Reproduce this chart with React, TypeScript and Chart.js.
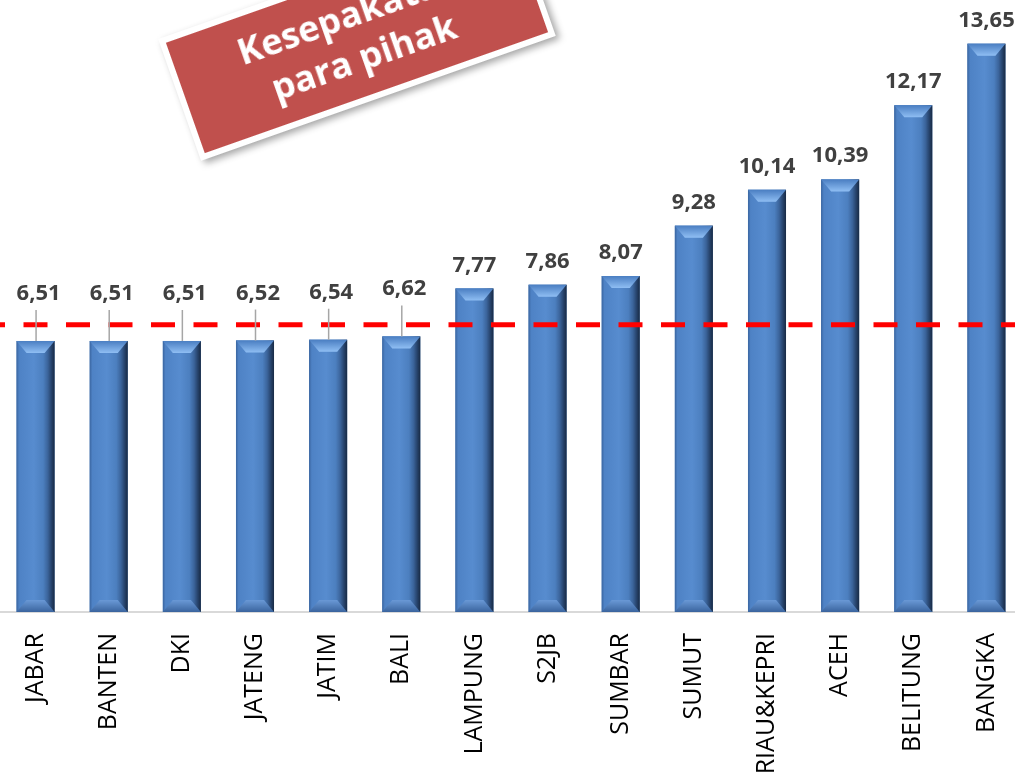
import React, { useEffect, useRef } from "react";
import { Chart, registerables } from "chart.js";

Chart.register(...registerables);

const categories = [
  "JABAR", "BANTEN", "DKI", "JATENG", "JATIM", "BALI", "LAMPUNG",
  "S2JB", "SUMBAR", "SUMUT", "RIAU&KEPRI", "ACEH", "BELITUNG", "BANGKA",
];
const values = [6.51, 6.51, 6.51, 6.52, 6.54, 6.62, 7.77, 7.86, 8.07, 9.28, 10.14, 10.39, 12.17, 13.65];
const thresholdValue = 6.9;
const calloutLines = ["Kesepakatan", "para pihak"];

const fmt = (v: number) => v.toFixed(2).replace(".", ",");

const decorPlugin = {
  id: "decor",
  afterDatasetsDraw(chart: any) {
    const ctx: CanvasRenderingContext2D = chart.ctx;
    const meta = chart.getDatasetMeta(0);
    const yScale = chart.scales.y;
    const area = chart.chartArea;

    // bevelled bars
    meta.data.forEach((bar: any) => {
      const { x, y, base, width } = bar.getProps(["x", "y", "base", "width"], true);
      const x0 = x - width / 2;
      const x1 = x + width / 2;
      const top = y;
      const bot = base;
      ctx.save();
      const g = ctx.createLinearGradient(x0, 0, x1, 0);
      g.addColorStop(0, "#3a65a0");
      g.addColorStop(0.07, "#4e82c5");
      g.addColorStop(0.45, "#578ccf");
      g.addColorStop(0.7, "#4c7fbf");
      g.addColorStop(0.82, "#3b649b");
      g.addColorStop(0.92, "#26426a");
      g.addColorStop(1, "#182a44");
      ctx.fillStyle = g;
      ctx.fillRect(x0, top, x1 - x0, bot - top);

      const d = 12;
      const ins = 10;
      // top bevel
      const gt = ctx.createLinearGradient(0, top, 0, top + d);
      gt.addColorStop(0, "#4a7ec2");
      gt.addColorStop(1, "#8fbef3");
      ctx.fillStyle = gt;
      ctx.beginPath();
      ctx.moveTo(x0, top);
      ctx.lineTo(x1, top);
      ctx.lineTo(x1 - ins, top + d);
      ctx.lineTo(x0 + ins, top + d);
      ctx.closePath();
      ctx.fill();
      // bottom bevel
      const gb = ctx.createLinearGradient(0, bot - d, 0, bot);
      gb.addColorStop(0, "#6a99d6");
      gb.addColorStop(1, "#3a649e");
      ctx.fillStyle = gb;
      ctx.beginPath();
      ctx.moveTo(x0, bot);
      ctx.lineTo(x1, bot);
      ctx.lineTo(x1 - ins, bot - d);
      ctx.lineTo(x0 + ins, bot - d);
      ctx.closePath();
      ctx.fill();
      ctx.restore();
    });

    // threshold dashed line
    const ty = yScale.getPixelForValue(thresholdValue);
    ctx.save();
    ctx.strokeStyle = "#ff0000";
    ctx.lineWidth = 5;
    ctx.setLineDash([24, 18.5]);
    ctx.lineDashOffset = 18;
    ctx.beginPath();
    ctx.moveTo(area.left, ty);
    ctx.lineTo(area.right, ty);
    ctx.stroke();
    ctx.restore();

    // value labels + leader lines
    ctx.save();
    ctx.font = 'bold 22px "Open Sans"';
    ctx.fillStyle = "#404040";
    ctx.textAlign = "center";
    ctx.textBaseline = "alphabetic";
    meta.data.forEach((bar: any, i: number) => {
      const { x, y } = bar.getProps(["x", "y"], true);
      const v = values[i];
      const lifted = v < thresholdValue;
      const cy = lifted ? y - 49 : y - 25;
      const tx = lifted ? x + 3 : x;
      if (lifted) {
        ctx.save();
        ctx.strokeStyle = "#a6a6a6";
        ctx.lineWidth = 1.5;
        ctx.beginPath();
        ctx.moveTo(x + 0.5, cy + 18);
        ctx.lineTo(x + 0.5, y);
        ctx.stroke();
        ctx.restore();
      }
      ctx.fillText(fmt(v), tx, cy + 8);
    });
    ctx.restore();
  },
};

export default function App() {
  const canvasRef = useRef<HTMLCanvasElement | null>(null);

  useEffect(() => {
    if (!canvasRef.current) return;
    const chart = new Chart(canvasRef.current, {
      type: "bar",
      data: {
        labels: categories,
        datasets: [
          {
            data: values,
            backgroundColor: "#4f81bd",
            borderWidth: 0,
            categoryPercentage: 0.52,
            barPercentage: 1,
          },
        ],
      },
      options: {
        animation: false,
        responsive: true,
        maintainAspectRatio: false,
        layout: { padding: 0 },
        plugins: {
          legend: { display: false },
          tooltip: { enabled: false },
          title: { display: false },
        },
        scales: {
          x: {
            type: "category",
            grid: { display: false, drawTicks: false },
            border: { display: true, color: "#d9d9d9", width: 2 },
            ticks: {
              color: "#000000",
              font: { family: "Open Sans", size: 25 },
              minRotation: 90,
              maxRotation: 90,
              autoSkip: false,
              padding: 21,
            },
            afterFit: (s: any) => {
              s.height = 163;
              s.paddingLeft = 0;
              s.paddingRight = 0;
            },
          },
          y: {
            display: false,
            min: 0,
            max: 14.7,
          },
        },
      },
      plugins: [decorPlugin],
    });
    return () => chart.destroy();
  }, []);

  return (
    <div
      style={{
        position: "fixed",
        left: 0,
        top: 0,
        width: 1015,
        height: 775,
        overflow: "hidden",
        background: "#ffffff",
      }}
    >
      <div style={{ position: "absolute", left: -1, top: 0, width: 1024, height: 775 }}>
        <canvas ref={canvasRef} />
      </div>
      <div
        style={{
          position: "absolute",
          left: 169,
          top: -27,
          width: 364,
          height: 117,
          border: "6px solid #ffffff",
          background: "#c0504d",
          transform: "rotate(-19.4deg)",
          boxShadow: "3px 4px 7px rgba(0,0,0,0.35)",
          fontFamily: '"Open Sans", sans-serif',
          fontWeight: 700,
          fontSize: 36,
          lineHeight: "45px",
          color: "#ffffff",
        }}
      >
        <div style={{ position: "absolute", left: 0, right: 0, top: 11, textAlign: "center", whiteSpace: "nowrap" }}>
          {calloutLines.map((l) => (
            <div key={l}>{l}</div>
          ))}
        </div>
      </div>
    </div>
  );
}
